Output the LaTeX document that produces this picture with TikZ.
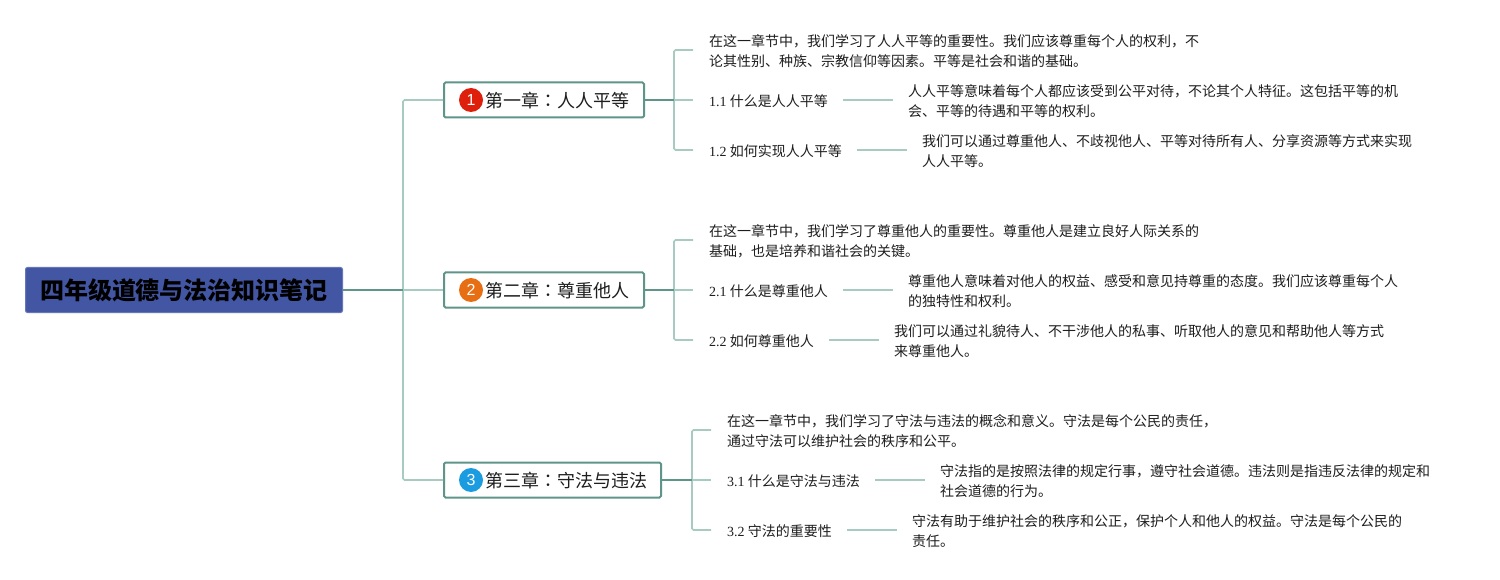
\documentclass[tikz,border=0pt]{standalone}
\usepackage{fontspec}
\setmainfont{Noto Sans CJK SC}
\newfontfamily\latf{Liberation Serif}
\newfontfamily\numf{Liberation Sans}
\newfontfamily\tcf{Noto Sans CJK TC}
\definecolor{darkline}{HTML}{5F9488}
\definecolor{lightline}{HTML}{A8CBC1}
\definecolor{rootfill}{HTML}{4256A3}
\definecolor{rootedge}{HTML}{6577B8}
\definecolor{inkc}{HTML}{1E1E1E}
\newcommand{\chapbox}[2]{\makebox[#1pt][l]{\hspace{41pt}\raisebox{-7.8pt}[0pt][0pt]{#2}}}
\newcommand{\colonc}{{\tcf ：}}
\tikzset{
  x=1pt,y=-1pt,
  rootbox/.style={draw=rootedge,line width=1pt,fill=rootfill,rounded corners=2pt,minimum width=317pt,minimum height=45pt,inner sep=0pt,font=\fontsize{24}{30}\selectfont\bfseries,text=black},
  chapterbox/.style={draw=darkline,line width=2pt,fill=white,rounded corners=1.5pt,minimum height=35pt,inner sep=0pt,font=\fontsize{18}{22}\selectfont,text=inkc,anchor=west},
  badge/.style={circle,minimum size=24pt,inner sep=0pt,text=white,font=\numf\fontsize{16}{20}\selectfont},
  leaf/.style={anchor=west,inner sep=0pt,align=left,font=\fontsize{14}{20}\selectfont,text=inkc},
  dline/.style={draw=darkline,line width=2pt},
  lline/.style={draw=lightline,line width=1.7pt,rounded corners=1.5pt},
  subline/.style={draw=lightline,line width=1.7pt,shorten <=15pt,shorten >=15pt},
  branch/.style={lline,shorten >=16pt}
}
\begin{document}
\begin{tikzpicture}
\useasboundingbox[fill=white] (0,0) rectangle (1500,580);
% root
\node[rootbox] (root) at (184,290) {\raisebox{-10pt}[0pt][0pt]{四年级道德与法治知识笔记}};
% chapters
\node[chapterbox] (c1) at (443,100) {\chapbox{200}{第一章\colonc 人人平等}};
\node[chapterbox] (c2) at (443,290) {\chapbox{200}{第二章\colonc 尊重他人}};
\node[chapterbox] (c3) at (443,480) {\chapbox{217}{第三章\colonc 守法与违法}};
\node[badge,fill={rgb,255:red,221;green,31;blue,12}] (b1) at (471,100) {1};
\node[badge,fill={rgb,255:red,232;green,110;blue,20}] (b2) at (471,290) {2};
\node[badge,fill={rgb,255:red,27;green,155;blue,224}] (b3) at (471,480) {3};
% junctions
\coordinate (jr) at (403,290);
\coordinate (j1) at (674,100);
\coordinate (j2) at (674,290);
\coordinate (j3) at (692,480);
% chapter 1
\node[leaf] (n10) at (709,51) {在这一章节中，我们学习了人人平等的重要性。我们应该尊重每个人的权利，不\\论其性别、种族、宗教信仰等因素。平等是社会和谐的基础。};
\node[leaf] (n11) at (709,101) {{\latf 1.1} 什么是人人平等};
\node[leaf] (d11) at (908,101) {人人平等意味着每个人都应该受到公平对待，不论其个人特征。这包括平等的机\\会、平等的待遇和平等的权利。};
\node[leaf] (n12) at (709,151) {{\latf 1.2} 如何实现人人平等};
\node[leaf] (d12) at (922,151) {我们可以通过尊重他人、不歧视他人、平等对待所有人、分享资源等方式来实现\\人人平等。};
% chapter 2
\node[leaf] (n20) at (709,241) {在这一章节中，我们学习了尊重他人的重要性。尊重他人是建立良好人际关系的\\基础，也是培养和谐社会的关键。};
\node[leaf] (n21) at (709,291) {{\latf 2.1} 什么是尊重他人};
\node[leaf] (d21) at (908,291) {尊重他人意味着对他人的权益、感受和意见持尊重的态度。我们应该尊重每个人\\的独特性和权利。};
\node[leaf] (n22) at (709,341) {{\latf 2.2} 如何尊重他人};
\node[leaf] (d22) at (894,341) {我们可以通过礼貌待人、不干涉他人的私事、听取他人的意见和帮助他人等方式\\来尊重他人。};
% chapter 3
\node[leaf] (n30) at (727,431) {在这一章节中，我们学习了守法与违法的概念和意义。守法是每个公民的责任，\\通过守法可以维护社会的秩序和公平。};
\node[leaf] (n31) at (727,481) {{\latf 3.1} 什么是守法与违法};
\node[leaf] (d31) at (940,481) {守法指的是按照法律的规定行事，遵守社会道德。违法则是指违反法律的规定和\\社会道德的行为。};
\node[leaf] (n32) at (727,531) {{\latf 3.2} 守法的重要性};
\node[leaf] (d32) at (912,531) {守法有助于维护社会的秩序和公正，保护个人和他人的权益。守法是每个公民的\\责任。};
% connectors
\draw[lline] (jr) |- (c1.west);
\draw[lline] (jr) -- (c2.west);
\draw[lline] (jr) |- (c3.west);
\foreach \j/\a/\b/\c in {j1/n10/n11/n12,j2/n20/n21/n22,j3/n30/n31/n32}{
  \draw[branch] (\j) |- ([yshift=1pt]\a.west);
  \draw[branch] (\j) -- ([yshift=1pt]\b.west);
  \draw[branch] (\j) |- ([yshift=1pt]\c.west);
}
\draw[dline] (root.east) -- (jr);
\draw[dline] (c1.east) -- (j1);
\draw[dline] (c2.east) -- (j2);
\draw[dline] (c3.east) -- (j3);
\foreach \s/\e in {n11/d11,n12/d12,n21/d21,n22/d22,n31/d31,n32/d32}{
  \draw[subline] ([yshift=1pt]\s.east) -- ([yshift=1pt]\e.west);
}
\end{tikzpicture}
\end{document}
